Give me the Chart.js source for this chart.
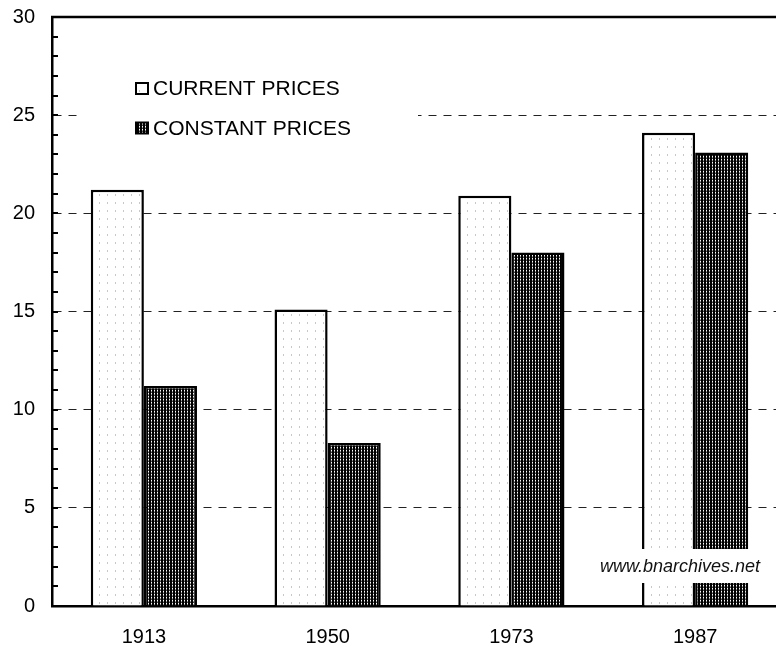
<!DOCTYPE html>
<html>
<head>
<meta charset="utf-8">
<title>Current and constant prices</title>
<script src="https://cdn.jsdelivr.net/npm/chart.js@4/dist/chart.umd.min.js"></script>
<style>
    html, body { margin: 0; padding: 0; background: #fff; overflow: hidden; }
    #wrap { position: absolute; left: 0; top: 0; width: 790px; height: 650px; }
</style>
</head>
<body>
<div id="wrap"><canvas id="pricesChart"></canvas></div>
<script>
// chart data
const years = ['1913', '1950', '1973', '1987'];
const currentPrices = [21.2, 15.1, 20.9, 24.1];
const constantPrices = [11.2, 8.3, 18.0, 23.1];
const seriesNames = ['CURRENT PRICES', 'CONSTANT PRICES'];
const yTicks = [0, 5, 10, 15, 20, 25, 30];
const watermark = 'www.bnarchives.net';

const FONT = '"Liberation Sans", Arial, sans-serif';

// light dotted fill for current prices
function makeDotPattern() {
    const c = document.createElement('canvas');
    c.width = 8; c.height = 8;
    const g = c.getContext('2d');
    g.fillStyle = '#fff';
    g.fillRect(0, 0, 8, 8);
    g.fillStyle = '#c8c8c8';
    g.fillRect(3, 2, 1, 2);
    return g.createPattern(c, 'repeat');
}

// dense dark fill for constant prices
function makeDarkPattern() {
    const c = document.createElement('canvas');
    c.width = 3; c.height = 3;
    const g = c.getContext('2d');
    g.fillStyle = '#000';
    g.fillRect(0, 0, 3, 3);
    g.fillStyle = '#fff';
    g.fillRect(1, 0, 1, 1);
    g.fillStyle = '#9a9a9a';
    g.fillRect(1, 1, 1, 1);
    g.fillStyle = '#444';
    g.fillRect(1, 2, 1, 1);
    return g.createPattern(c, 'repeat');
}

const dotFill = makeDotPattern();
const darkFill = makeDarkPattern();

// top frame line and small inward ticks on the value axis
const framePlugin = {
    id: 'frame',
    beforeDatasetsDraw(chart) {
        const { ctx, chartArea } = chart;
        const y = chart.scales.y;
        ctx.save();
        ctx.strokeStyle = '#000';
        ctx.lineWidth = 2.5;
        ctx.beginPath();
        ctx.moveTo(chartArea.left - 1, chartArea.top);
        ctx.lineTo(chartArea.right + 5, chartArea.top);
        ctx.stroke();

        ctx.lineWidth = 2;
        for (let v = y.min + 1; v < y.max; v++) {
            const py = Math.round(y.getPixelForValue(v));
            ctx.beginPath();
            ctx.moveTo(chartArea.left, py);
            ctx.lineTo(chartArea.left + 6, py);
            ctx.stroke();
        }

        // legend inside the plot
        ctx.fillStyle = '#fff';
        ctx.fillRect(78, 64, 340, 82);
        const rows = [
            { fill: dotFill, y: 88.5 },
            { fill: darkFill, y: 128 }
        ];
        ctx.font = '21px ' + FONT;
        ctx.textBaseline = 'middle';
        rows.forEach((r, i) => {
            ctx.fillStyle = r.fill;
            ctx.fillRect(136, r.y - 5.5, 12, 11);
            ctx.strokeStyle = '#000';
            ctx.lineWidth = 2;
            ctx.strokeRect(136, r.y - 5.5, 12, 11);
            ctx.fillStyle = '#000';
            ctx.fillText(chart.data.datasets[i].label, 153, r.y + 1);
        });
        ctx.restore();
    },
    afterDatasetsDraw(chart) {
        const { ctx } = chart;
        ctx.save();
        ctx.fillStyle = '#fff';
        ctx.fillRect(588, 549, 210, 34);
        ctx.fillStyle = '#111';
        ctx.font = 'italic 18px ' + FONT;
        ctx.textAlign = 'center';
        ctx.textBaseline = 'middle';
        ctx.fillText(watermark, 680, 567);
        ctx.restore();
    }
};

const ctx = document.getElementById('pricesChart').getContext('2d');
new Chart(ctx, {
    type: 'bar',
    data: {
        labels: years,
        datasets: [
            {
                label: seriesNames[0],
                data: currentPrices,
                backgroundColor: dotFill,
                borderColor: '#000',
                borderWidth: 2.5
            },
            {
                label: seriesNames[1],
                data: constantPrices,
                backgroundColor: darkFill,
                borderColor: '#000',
                borderWidth: 2.5
            }
        ]
    },
    options: {
        responsive: true,
        maintainAspectRatio: false,
        animation: false,
        events: [],
        layout: { autoPadding: false, padding: { top: 17, right: 3, left: 0, bottom: 0 } },
        datasets: {
            bar: { categoryPercentage: 0.578, barPercentage: 1.0 }
        },
        plugins: {
            legend: { display: false },
            tooltip: { enabled: false }
        },
        scales: {
            x: {
                grid: { display: false, drawTicks: false },
                border: { display: true, color: '#000', width: 2.5 },
                ticks: {
                    color: '#000',
                    padding: 19,
                    font: { family: FONT, size: 20 }
                },
                afterFit(scale) {
                    scale.height = 44;
                    scale.paddingLeft = 0;
                    scale.paddingRight = 0;
                }
            },
            y: {
                min: 0,
                max: 30,
                afterBuildTicks(scale) {
                    scale.ticks = yTicks.map(v => ({ value: v }));
                },
                grid: {
                    drawTicks: false,
                    lineWidth: 1,
                    color: c => (c.tick && (c.tick.value === 0 || c.tick.value === 30)) ? 'rgba(0,0,0,0)' : '#222'
                },
                border: { display: true, color: '#000', width: 2.5, dash: [8, 7] },
                ticks: {
                    color: '#000',
                    padding: 17,
                    font: { family: FONT, size: 20 }
                },
                afterFit(scale) {
                    scale.width = 52;
                    scale.paddingTop = 0;
                    scale.paddingBottom = 0;
                }
            }
        }
    },
    plugins: [framePlugin]
});
</script>
</body>
</html>
